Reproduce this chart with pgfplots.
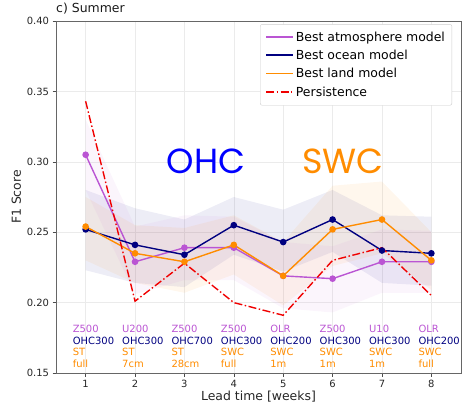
\documentclass[border=0pt]{standalone}
\usepackage{pgfplots}
\pgfplotsset{compat=1.18}
\usepackage{fontspec}
\setmainfont{DejaVu Sans}
\newfontfamily\bigfont{Poppins}
\definecolor{atm}{RGB}{186,85,211}
\definecolor{ocn}{RGB}{0,0,128}
\definecolor{lnd}{RGB}{255,140,0}
\definecolor{pers}{RGB}{240,0,0}
\definecolor{ohcblue}{RGB}{0,0,255}
\newcommand{\catlab}[5]{%
  \node[anchor=base west,inner sep=0pt,text=atm] at (axis cs:#1,0.1791) {#2};
  \node[anchor=base west,inner sep=0pt,text=ocn] at (axis cs:#1,0.1706) {#3};
  \node[anchor=base west,inner sep=0pt,text=lnd] at (axis cs:#1,0.1621) {#4};
  \node[anchor=base west,inner sep=0pt,text=lnd] at (axis cs:#1,0.1537) {#5};
}
\begin{document}
\begin{tikzpicture}
\begin{axis}[
  scale only axis, width=405bp, height=352bp,
  xmin=0.4, xmax=8.6, ymin=0.15, ymax=0.40,
  xtick={1,2,3,4,5,6,7,8},
  ytick={0.15,0.20,0.25,0.30,0.35,0.40},
  yticklabel style={/pgf/number format/fixed,/pgf/number format/precision=2,/pgf/number format/fixed zerofill},
  /pgf/number format/assume math mode=true,
  tick label style={font=\fontsize{10}{12}\selectfont, text=black!85},
  tick align=outside, tick pos=left, major tick length=3.5bp,
  tick style={black!70, line width=0.6pt},
  axis line style={black!60, line width=0.7pt},
  grid=major, major grid style={black!8, line width=0.5pt},
  xlabel={Lead time [weeks]}, ylabel={F1 Score},
  label style={font=\fontsize{12.5}{14}\selectfont, text=black!85},
  xlabel style={yshift=3bp},
  ylabel style={yshift=-1bp},
  title={c) Summer},
  title style={font=\fontsize{12.5}{14}\selectfont, text=black!90, anchor=south west, at={(rel axis cs:0,1)}, inner sep=0pt, yshift=1bp},
  legend style={at={(rel axis cs:0.978,0.991)}, anchor=north east, font=\fontsize{12.5}{15}\selectfont, draw=black!20, rounded corners=2pt, fill=white, inner xsep=5pt, inner ysep=5.5pt, row sep=3.4bp},
  legend cell align=left,
  legend image code/.code={\draw[#1, line width=1.7pt, mark=none] (0bp,0.5bp) -- (27bp,0.5bp);},
  every axis plot/.append style={line width=1.4pt},
  clip=true,
]
% bands
\addplot[forget plot, draw=none, fill=ocn, fill opacity=0.07] coordinates {
 (1,0.280) (2,0.267) (3,0.259) (4,0.275) (5,0.266) (6,0.280) (7,0.262) (8,0.261)
 (8,0.212) (7,0.214) (6,0.236) (5,0.222) (4,0.234) (3,0.211) (2,0.214) (1,0.223)} -- cycle;
\addplot[forget plot, draw=none, fill=lnd, fill opacity=0.07] coordinates {
 (1,0.275) (2,0.255) (3,0.253) (4,0.262) (5,0.243) (6,0.283) (7,0.286) (8,0.250)
 (8,0.209) (7,0.235) (6,0.226) (5,0.198) (4,0.220) (3,0.207) (2,0.214) (1,0.230)} -- cycle;
\addplot[forget plot, draw=none, fill=atm, fill opacity=0.06] coordinates {
 (1,0.330) (2,0.254) (3,0.262) (4,0.261) (5,0.243) (6,0.240) (7,0.252) (8,0.251)
 (8,0.207) (7,0.207) (6,0.193) (5,0.196) (4,0.216) (3,0.216) (2,0.206) (1,0.280)} -- cycle;
% lines
\addplot[atm, mark=*, mark size=2.6pt] coordinates {
 (1,0.305) (2,0.229) (3,0.239) (4,0.239) (5,0.219) (6,0.217) (7,0.229) (8,0.229)};
\addlegendentry{Best atmosphere model}
\addplot[ocn, mark=*, mark size=2.6pt] coordinates {
 (1,0.252) (2,0.241) (3,0.234) (4,0.255) (5,0.243) (6,0.259) (7,0.237) (8,0.235)};
\addlegendentry{Best ocean model}
\addplot[lnd, mark=*, mark size=2.6pt] coordinates {
 (1,0.254) (2,0.235) (3,0.229) (4,0.241) (5,0.219) (6,0.252) (7,0.259) (8,0.230)};
\addlegendentry{Best land model}
\addplot[pers, dash pattern=on 8pt off 2.5pt on 1.5pt off 2.5pt] coordinates {
 (1,0.343) (2,0.201) (3,0.228) (4,0.200) (5,0.191) (6,0.230) (7,0.239) (8,0.205)};
\addlegendentry{Persistence}
% big labels
\node[text=ohcblue, font=\bigfont\fontsize{35}{40}\selectfont] at (axis cs:3.44,0.3005) {OHC};
\node[text=lnd, font=\bigfont\fontsize{35}{40}\selectfont] at (axis cs:6.21,0.3005) {SWC};
% category labels
\begingroup
\fontsize{9.7}{11}\selectfont
\catlab{0.736}{Z500}{OHC300}{ST}{full}
\catlab{1.736}{U200}{OHC300}{ST}{7cm}
\catlab{2.736}{Z500}{OHC700}{ST}{28cm}
\catlab{3.736}{Z500}{OHC300}{SWC}{full}
\catlab{4.736}{OLR}{OHC200}{SWC}{1m}
\catlab{5.736}{Z500}{OHC300}{SWC}{1m}
\catlab{6.736}{U10}{OHC300}{SWC}{1m}
\catlab{7.736}{OLR}{OHC200}{SWC}{full}
\endgroup
\end{axis}
\path ([shift={(-56bp,-39bp)}]current axis.south west) rectangle ([shift={(1bp,21bp)}]current axis.north east);
\end{tikzpicture}
\end{document}
